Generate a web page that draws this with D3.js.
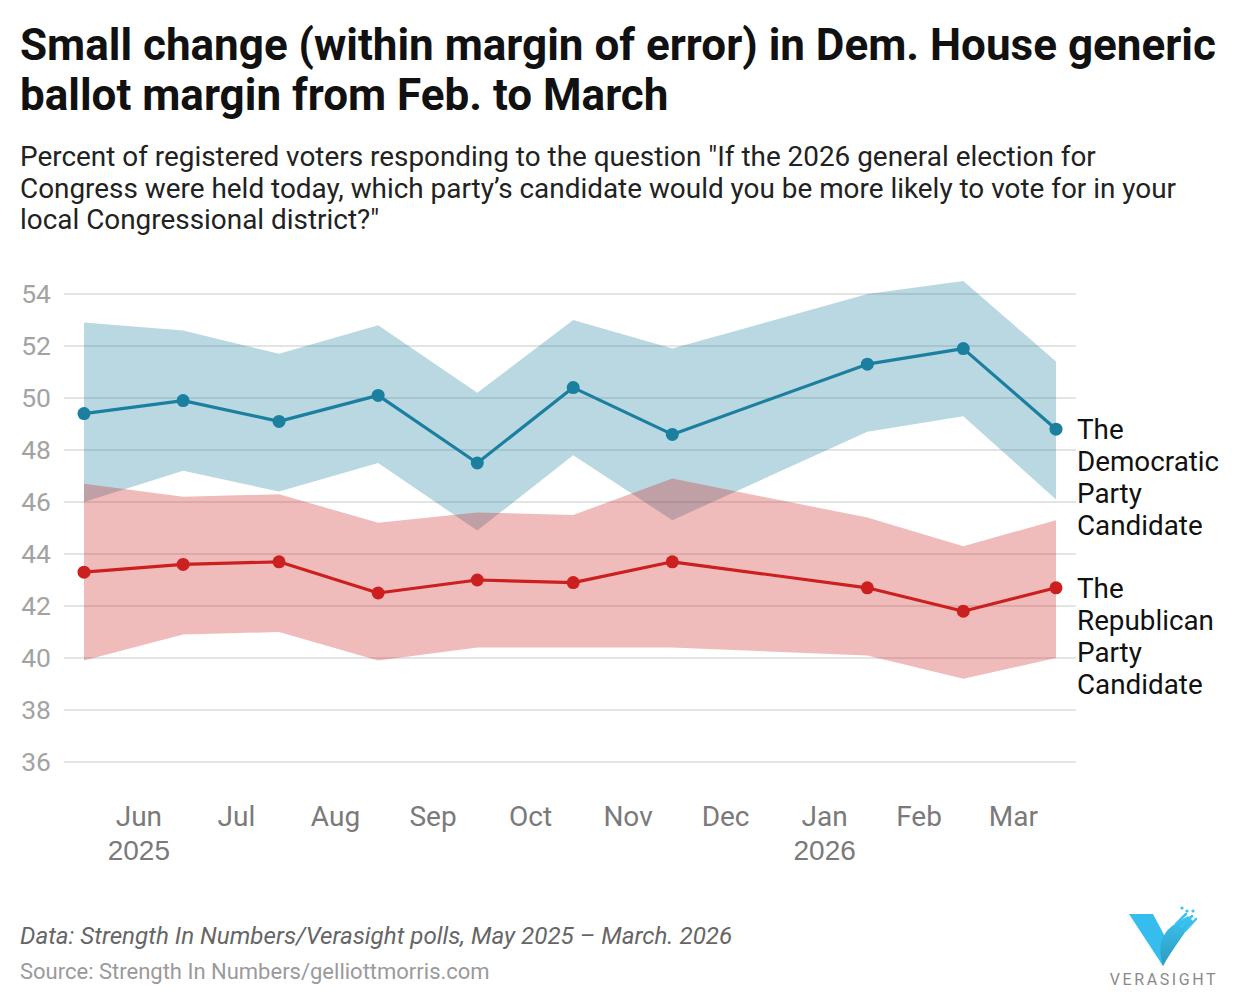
<!DOCTYPE html>
<html>
<head>
<meta charset="utf-8">
<script src="https://cdn.jsdelivr.net/npm/d3@7"></script>
<style>
  body { margin: 0; background: #fff; }
  svg { display: block; font-family: Roboto, "Noto Sans", sans-serif; }
</style>
</head>
<body>
<svg id="chart" width="1240" height="1006"></svg>
<script>
// poll dates (field period end) and values
const dates = ["2025-05-30", "2025-06-30", "2025-07-30", "2025-08-30", "2025-09-30",
  "2025-10-30", "2025-11-30", "2026-01-30", "2026-03-01", "2026-03-30"];
const demValues = [49.4, 49.9, 49.1, 50.1, 47.5, 50.4, 48.6, 51.3, 51.9, 48.8];
const demUpper = [52.9, 52.6, 51.7, 52.8, 50.2, 53.0, 51.9, 54.0, 54.5, 51.4];
const demLower = [46.0, 47.2, 46.4, 47.5, 44.9, 47.8, 45.3, 48.7, 49.3, 46.1];
const repValues = [43.3, 43.6, 43.7, 42.5, 43.0, 42.9, 43.7, 42.7, 41.8, 42.7];
const repUpper = [46.7, 46.2, 46.3, 45.2, 45.6, 45.5, 46.9, 45.4, 44.3, 45.3];
const repLower = [39.9, 40.9, 41.0, 39.9, 40.4, 40.4, 40.4, 40.1, 39.2, 40.0];
const yTicks = [36, 38, 40, 42, 44, 46, 48, 50, 52, 54];
const monthTicks = ["Jun", "Jul", "Aug", "Sep", "Oct", "Nov", "Dec", "Jan", "Feb", "Mar"];
const yearTicks = { "Jun": "2025", "Jan": "2026" };
const demLabel = ["The", "Democratic", "Party", "Candidate"];
const repLabel = ["The", "Republican", "Party", "Candidate"];

const demColor = "#1b7fa0";
const repColor = "#cc1f1f";

const parse = d3.timeParse("%Y-%m-%d");
const rows = dates.map((d, i) => ({
  date: parse(d),
  dem: demValues[i], demHi: demUpper[i], demLo: demLower[i],
  rep: repValues[i], repHi: repUpper[i], repLo: repLower[i]
}));

const svg = d3.select("#chart");

// title + subtitle
svg.append("text")
  .attr("x", 20).attr("y", 60)
  .attr("font-size", 44).attr("font-weight", 700).attr("fill", "#111")
  .selectAll("tspan")
  .data(["Small change (within margin of error) in Dem. House generic", "ballot margin from Feb. to March"])
  .join("tspan")
  .attr("x", 20).attr("dy", (d, i) => i ? 50 : 0)
  .text(d => d);

svg.append("text")
  .attr("x", 20).attr("y", 166)
  .attr("font-size", 27.9).attr("fill", "#222")
  .selectAll("tspan")
  .data(["Percent of registered voters responding to the question \"If the 2026 general election for",
    "Congress were held today, which party\u2019s candidate would you be more likely to vote for in your",
    "local Congressional district?\""])
  .join("tspan")
  .attr("x", 20).attr("dy", (d, i) => i ? 31.5 : 0)
  .text(d => d);

// scales
const x = d3.scaleTime()
  .domain([parse("2025-05-30"), parse("2026-03-30")])
  .range([84, 1056]);

const y = d3.scaleLinear()
  .domain([36, 54])
  .range([762, 294]);

// grid
svg.append("g")
  .selectAll("line")
  .data(yTicks)
  .join("line")
  .attr("x1", 64).attr("x2", 1076)
  .attr("y1", d => y(d)).attr("y2", d => y(d))
  .attr("stroke", "#e4e4e4")
  .attr("stroke-width", 2);

// y axis labels
const yAxis = svg.append("g")
  .attr("transform", "translate(51,0)")
  .call(d3.axisLeft(y).tickValues(yTicks).tickSize(0).tickPadding(0));
yAxis.select(".domain").remove();
yAxis.selectAll("text")
  .attr("font-family", "Roboto, sans-serif")
  .attr("font-size", 26.5)
  .attr("fill", "#a3a3a3");

// x axis: month labels centred in each month
const monthStarts = d3.timeMonth.range(parse("2025-06-01"), parse("2026-04-01"));
const midMonths = monthStarts.map(m => new Date((+m + +d3.timeMonth.offset(m, 1)) / 2));
const xAxis = svg.append("g")
  .attr("transform", "translate(0,826)")
  .call(d3.axisBottom(x).tickValues(midMonths).tickSize(0).tickPadding(0)
    .tickFormat((d, i) => monthTicks[i]));
xAxis.select(".domain").remove();
xAxis.selectAll("text")
  .attr("font-family", "Roboto, sans-serif")
  .attr("font-size", 28)
  .attr("fill", "#7a7a7a")
  .attr("dy", 0);
xAxis.selectAll(".tick")
  .filter((d, i) => yearTicks[monthTicks[i]])
  .append("text")
  .attr("y", 34)
  .attr("text-anchor", "middle")
  .attr("font-size", 28)
  .attr("fill", "#7a7a7a")
  .text((d) => yearTicks[monthTicks[midMonths.indexOf(d)]]);

// bands
const band = (hi, lo) => d3.area()
  .x(d => x(d.date))
  .y0(d => y(d[lo]))
  .y1(d => y(d[hi]));

svg.append("path")
  .datum(rows)
  .attr("fill", demColor)
  .attr("fill-opacity", 0.3)
  .attr("d", band("demHi", "demLo"));

svg.append("path")
  .datum(rows)
  .attr("fill", repColor)
  .attr("fill-opacity", 0.3)
  .attr("d", band("repHi", "repLo"));

// lines + dots
[["dem", demColor], ["rep", repColor]].forEach(([key, color]) => {
  svg.append("path")
    .datum(rows)
    .attr("fill", "none")
    .attr("stroke", color)
    .attr("stroke-width", 3.2)
    .attr("stroke-linejoin", "round")
    .attr("d", d3.line().x(d => x(d.date)).y(d => y(d[key])));

  svg.append("g")
    .selectAll("circle")
    .data(rows)
    .join("circle")
    .attr("cx", d => x(d.date))
    .attr("cy", d => y(d[key]))
    .attr("r", 6.5)
    .attr("fill", color);
});

// direct labels at the last point
const last = rows[rows.length - 1];
[[demLabel, last.dem], [repLabel, last.rep]].forEach(([lines, v]) => {
  svg.append("text")
    .attr("x", 1077).attr("y", y(v) + 10)
    .attr("font-size", 27.8).attr("fill", "#111")
    .selectAll("tspan")
    .data(lines)
    .join("tspan")
    .attr("x", 1077).attr("dy", (d, i) => i ? 32 : 0)
    .text(d => d);
});

// footer
svg.append("text")
  .attr("x", 20).attr("y", 944)
  .attr("font-size", 24.2).attr("font-style", "italic").attr("fill", "#666")
  .text("Data: Strength In Numbers/Verasight polls, May 2025 \u2013 March. 2026");

svg.append("text")
  .attr("x", 20).attr("y", 979)
  .attr("font-size", 22).attr("fill", "#9a9a9a")
  .text("Source: Strength In Numbers/gelliottmorris.com");

// logo
const logo = svg.append("g");
const grad = svg.append("defs").append("linearGradient")
  .attr("id", "vgrad").attr("x1", 0).attr("y1", 0).attr("x2", 0).attr("y2", 1);
grad.append("stop").attr("offset", "0%").attr("stop-color", "#3cc2ef");
grad.append("stop").attr("offset", "100%").attr("stop-color", "#2a9cbf");
logo.append("path")
  .attr("d", "M1129,914 L1153,914 L1171,948 L1163,966 Z")
  .attr("fill", "#35bdee");
logo.append("path")
  .attr("d", "M1163,966 C1158,948 1160,936 1172,926 L1188,916 L1193,921 C1184,934 1172,950 1163,966 Z")
  .attr("fill", "url(#vgrad)");
logo.append("g")
  .selectAll("line")
  .data([[1176, 924, 1186, 914], [1181, 927, 1192, 916], [1185, 931, 1196, 919]])
  .join("line")
  .attr("x1", d => d[0]).attr("y1", d => d[1]).attr("x2", d => d[2]).attr("y2", d => d[3])
  .attr("stroke", "#3cc2ef").attr("stroke-width", 2.5).attr("stroke-linecap", "round");
logo.append("g")
  .selectAll("circle")
  .data([[1182, 908], [1187, 911], [1193, 911]])
  .join("circle")
  .attr("cx", d => d[0]).attr("cy", d => d[1]).attr("r", 1.6)
  .attr("fill", "#3cc2ef");
logo.append("text")
  .attr("x", 1164).attr("y", 985)
  .attr("text-anchor", "middle")
  .attr("font-size", 16).attr("letter-spacing", 2.6).attr("fill", "#8a8a8a")
  .text("VERASIGHT");
</script>
</body>
</html>
